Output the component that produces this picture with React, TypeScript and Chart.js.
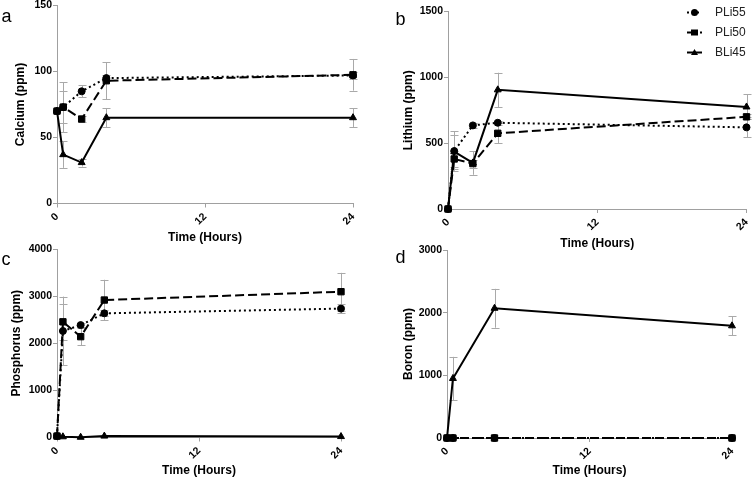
import React, { useEffect, useRef } from 'react';
import { Chart, registerables } from 'chart.js';

Chart.register(...registerables);

const FONT = "'Liberation Sans', Arial, Helvetica, sans-serif";

// ---------- data ----------
const times = [0, 0.5, 2, 4, 24];
const seriesNames = ['PLi55', 'PLi50', 'BLi45'];
const xTicks = [0, 12, 24];

const calciumPLi55 = [70, 73, 85, 95, 97];
const calciumPLi50 = [70, 73, 64, 93, 97.5];
const calciumBLi45 = [70, 37, 31, 65, 65];
const calciumErrPLi55 = [0, 19, 4.5, 2, 3];
const calciumErrPLi50 = [0, 12, 2, 14, 12];
const calciumErrBLi45 = [0, 10, 3, 7, 7];

const lithiumPLi55 = [0, 440, 635, 655, 620];
const lithiumPLi50 = [0, 380, 345, 575, 700];
const lithiumBLi45 = [0, 435, 350, 905, 775];
const lithiumErrPLi55 = [0, 150, 20, 15, 75];
const lithiumErrPLi50 = [0, 60, 30, 75, 20];
const lithiumErrBLi45 = [0, 130, 90, 130, 95];

const phosphorusPLi55 = [30, 2260, 2385, 2635, 2735];
const phosphorusPLi50 = [30, 2455, 2140, 2917, 3094];
const phosphorusBLi45 = [30, 15, 5, 30, 20];
const phosphorusErrPLi55 = [0, 730, 50, 60, 90];
const phosphorusErrPLi50 = [0, 380, 180, 430, 400];
const phosphorusErrBLi45 = [0, 0, 0, 0, 0];

const boronPLi55 = [0, 0, null, 0, 0];
const boronPLi50 = [0, 0, null, 0, 0];
const boronBLi45 = [0, 950, null, 2070, 1790];
const boronErrPLi55 = [0, 0, 0, 0, 0];
const boronErrPLi50 = [0, 0, 0, 0, 0];
const boronErrBLi45 = [0, 345, 0, 310, 150];

const yTicksCalcium = [0, 50, 100, 150];
const yTicksLithium = [0, 500, 1000, 1500];
const yTicksPhosphorus = [0, 1000, 2000, 3000, 4000];
const yTicksBoron = [0, 1000, 2000, 3000];

// ---------- styles ----------
const seriesStyles = [
  { pointStyle: 'circle', pointRadius: 3.5, borderDash: [2, 3] },
  { pointStyle: 'rect', pointRadius: 4.5, borderDash: [9, 4] },
  { pointStyle: 'triangle', pointRadius: 4, borderDash: [] as number[] },
];

type Panel = {
  letter: string;
  yTitle: string;
  yTicks: number[];
  series: (number | null)[][];
  errors: number[][];
  area: { l: number; t: number; r: number; b: number };
  yTitleX: number;
  xTitleY: number;
  letterPos: { x: number; y: number };
  legend?: boolean;
};

const panels: Panel[] = [
  {
    letter: 'a',
    yTitle: 'Calcium (ppm)',
    yTicks: yTicksCalcium,
    series: [calciumPLi55, calciumPLi50, calciumBLi45],
    errors: [calciumErrPLi55, calciumErrPLi50, calciumErrBLi45],
    area: { l: 57, t: 5, r: 353, b: 203.5 },
    yTitleX: 21,
    xTitleY: 238,
    letterPos: { x: 1.5, y: 22 },
  },
  {
    letter: 'b',
    yTitle: 'Lithium (ppm)',
    yTicks: yTicksLithium,
    series: [lithiumPLi55, lithiumPLi50, lithiumBLi45],
    errors: [lithiumErrPLi55, lithiumErrPLi50, lithiumErrBLi45],
    area: { l: 448, t: 11.5, r: 747, b: 209 },
    yTitleX: 409,
    xTitleY: 244,
    letterPos: { x: 395.5, y: 25 },
    legend: true,
  },
  {
    letter: 'c',
    yTitle: 'Phosphorus (ppm)',
    yTicks: yTicksPhosphorus,
    series: [phosphorusPLi55, phosphorusPLi50, phosphorusBLi45],
    errors: [phosphorusErrPLi55, phosphorusErrPLi50, phosphorusErrBLi45],
    area: { l: 57, t: 249, r: 341, b: 437.5 },
    yTitleX: 17,
    xTitleY: 470.7,
    letterPos: { x: 1.5, y: 265 },
  },
  {
    letter: 'd',
    yTitle: 'Boron (ppm)',
    yTicks: yTicksBoron,
    series: [boronPLi55, boronPLi50, boronBLi45],
    errors: [boronErrPLi55, boronErrPLi50, boronErrBLi45],
    area: { l: 447, t: 250, r: 732, b: 438 },
    yTitleX: 409,
    xTitleY: 470.7,
    letterPos: { x: 395.5, y: 263 },
  },
];

const W = 752;
const H = 481;
const TITLE_HALF = 7.2; // 12px font, lineHeight 1.2

// ---------- plugins ----------
const errorBarPlugin = {
  id: 'errorBars',
  beforeDatasetsDraw(chart: any) {
    const ctx = chart.ctx;
    const xs = chart.scales.x;
    const ys = chart.scales.y;
    ctx.save();
    ctx.strokeStyle = '#a9a9a9';
    ctx.lineWidth = 1;
    chart.data.datasets.forEach((ds: any) => {
      const errs = ds.errors as number[];
      if (!errs) return;
      ds.data.forEach((p: any, i: number) => {
        const e = errs[i];
        if (p.y == null || !e) return;
        const x = Math.round(xs.getPixelForValue(p.x)) + 0.5;
        const yT = ys.getPixelForValue(p.y + e);
        const yB = ys.getPixelForValue(Math.max(p.y - e, 0));
        ctx.beginPath();
        ctx.moveTo(x, yT);
        ctx.lineTo(x, yB);
        ctx.moveTo(x - 4, Math.round(yT) + 0.5);
        ctx.lineTo(x + 4, Math.round(yT) + 0.5);
        ctx.moveTo(x - 4, Math.round(yB) + 0.5);
        ctx.lineTo(x + 4, Math.round(yB) + 0.5);
        ctx.stroke();
      });
    });
    ctx.restore();
  },
};

const letterPlugin = {
  id: 'panelLetter',
  afterDraw(chart: any, _args: any, opts: any) {
    if (!opts || !opts.text) return;
    const ctx = chart.ctx;
    ctx.save();
    ctx.fillStyle = '#000';
    ctx.font = `18px ${FONT}`;
    ctx.textBaseline = 'alphabetic';
    ctx.textAlign = 'left';
    ctx.fillText(opts.text, opts.x, opts.y);
    ctx.restore();
  },
};

function drawMarker(ctx: CanvasRenderingContext2D, style: string, x: number, y: number) {
  ctx.beginPath();
  if (style === 'circle') {
    ctx.arc(x, y, 3.5, 0, Math.PI * 2);
  } else if (style === 'rect') {
    ctx.rect(x - 3.5, y - 3, 7, 6);
  } else {
    ctx.moveTo(x, y - 3.5);
    ctx.lineTo(x + 3.5, y + 2.5);
    ctx.lineTo(x - 3.5, y + 2.5);
    ctx.closePath();
  }
  ctx.fill();
}

const seriesLegendPlugin = {
  id: 'seriesLegend',
  afterDraw(chart: any, _args: any, opts: any) {
    if (!opts || !opts.display) return;
    const ctx = chart.ctx;
    chart.data.datasets.forEach((ds: any, k: number) => {
      const y = opts.y + k * opts.gap;
      ctx.save();
      ctx.strokeStyle = '#000';
      ctx.fillStyle = '#000';
      ctx.lineWidth = 2;
      ctx.setLineDash(ds.borderDash || []);
      ctx.beginPath();
      ctx.moveTo(opts.x, y);
      ctx.lineTo(opts.x + opts.len, y);
      ctx.stroke();
      ctx.setLineDash([]);
      drawMarker(ctx, ds.pointStyle, opts.x + opts.len / 2, y);
      ctx.fillStyle = '#222';
      ctx.font = `12px ${FONT}`;
      ctx.textBaseline = 'middle';
      ctx.textAlign = 'left';
      ctx.fillText(ds.label, opts.textX, y);
      ctx.restore();
    });
  },
};

function buildConfig(p: Panel): any {
  const padLeft = p.yTitleX - TITLE_HALF;
  const xScaleBottom = p.xTitleY + TITLE_HALF;
  const padBottom = H - xScaleBottom;
  const yWidth = p.area.l - padLeft;
  const xHeight = xScaleBottom - p.area.b;
  const yMax = p.yTicks[p.yTicks.length - 1];
  const yStep = p.yTicks[1] - p.yTicks[0];
  const tickFont = { family: FONT, size: 10.5, weight: 'bold' as const };
  const titleFont = { family: FONT, size: 12, weight: 'bold' as const, lineHeight: 1.2 };
  const zeroPad = (s: any) => {
    s.paddingLeft = 0;
    s.paddingRight = 0;
    s.paddingTop = 0;
    s.paddingBottom = 0;
  };
  const plain = (v: any) => String(v);
  return {
    type: 'line',
    data: {
      datasets: p.series.map((vals, k) => ({
        label: seriesNames[k],
        data: times.map((t, i) => ({ x: t, y: vals[i] })),
        errors: p.errors[k],
        borderColor: '#000',
        backgroundColor: '#000',
        borderWidth: 2,
        pointBackgroundColor: '#000',
        pointBorderColor: '#000',
        pointBorderWidth: 1,
        pointStyle: seriesStyles[k].pointStyle,
        pointRadius: seriesStyles[k].pointRadius,
        borderDash: seriesStyles[k].borderDash,
        tension: 0,
        spanGaps: true,
        clip: false,
        fill: false,
      })),
    },
    options: {
      responsive: false,
      animation: false,
      devicePixelRatio: 1,
      events: [],
      layout: {
        padding: { left: padLeft, top: p.area.t, right: W - p.area.r, bottom: padBottom },
      },
      plugins: {
        legend: { display: false },
        tooltip: { enabled: false },
        panelLetter: { text: p.letter, x: p.letterPos.x, y: p.letterPos.y },
        seriesLegend: { display: !!p.legend, x: 687, len: 15, textX: 715, y: 12.5, gap: 20 },
      },
      scales: {
        x: {
          type: 'linear',
          min: 0,
          max: 24,
          afterBuildTicks: (s: any) => {
            s.ticks = xTicks.map((v) => ({ value: v }));
          },
          ticks: {
            minRotation: 45,
            maxRotation: 45,
            font: tickFont,
            color: '#000',
            padding: 3,
            callback: plain,
          },
          grid: { drawOnChartArea: false, color: '#a0a0a0', tickLength: 4 },
          border: { color: '#a0a0a0', width: 1 },
          title: {
            display: true,
            text: 'Time (Hours)',
            font: titleFont,
            color: '#000',
            padding: 0,
          },
          afterFit: (s: any) => {
            s.height = xHeight;
            zeroPad(s);
          },
        },
        y: {
          type: 'linear',
          min: 0,
          max: yMax,
          afterBuildTicks: (s: any) => {
            s.ticks = p.yTicks.map((v) => ({ value: v }));
          },
          ticks: { stepSize: yStep, font: tickFont, color: '#000', padding: 1, callback: plain },
          grid: { drawOnChartArea: false, color: '#a0a0a0', tickLength: 4 },
          border: { color: '#a0a0a0', width: 1 },
          title: {
            display: true,
            text: p.yTitle,
            font: titleFont,
            color: '#000',
            padding: 0,
          },
          afterFit: (s: any) => {
            s.width = yWidth;
            zeroPad(s);
          },
        },
      },
    },
    plugins: [errorBarPlugin, letterPlugin, seriesLegendPlugin],
  };
}

export default function App() {
  const refs = [
    useRef<HTMLCanvasElement>(null),
    useRef<HTMLCanvasElement>(null),
    useRef<HTMLCanvasElement>(null),
    useRef<HTMLCanvasElement>(null),
  ];

  useEffect(() => {
    document.body.style.margin = '0';
    const charts = panels.map((p, i) => new Chart(refs[i].current as HTMLCanvasElement, buildConfig(p)));
    return () => charts.forEach((c) => c.destroy());
  }, []);

  return (
    <div style={{ position: 'absolute', left: 0, top: 0, width: W, height: H, background: '#fff' }}>
      {panels.map((p, i) => (
        <canvas
          key={p.letter}
          ref={refs[i]}
          width={W}
          height={H}
          style={{ position: 'absolute', left: 0, top: 0, width: W, height: H }}
        />
      ))}
    </div>
  );
}
